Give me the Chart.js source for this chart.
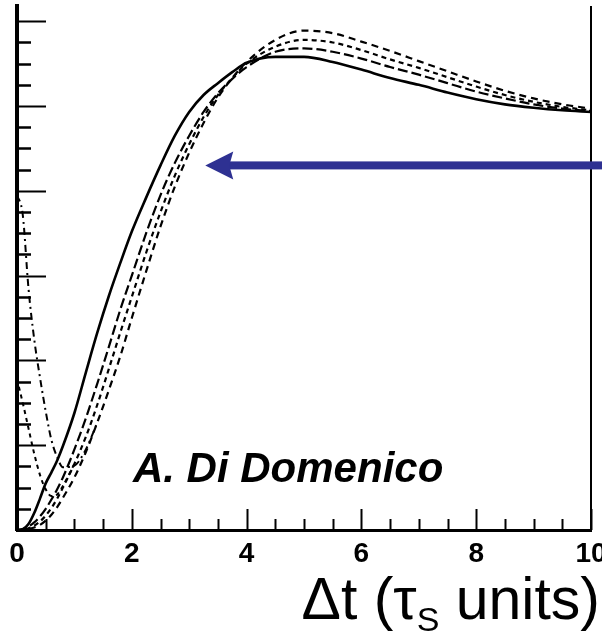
<!DOCTYPE html>
<html><head><meta charset="utf-8">
<script src="https://cdn.jsdelivr.net/npm/chart.js@4.4.0/dist/chart.umd.min.js"></script>
<style>html,body{margin:0;padding:0;background:#fff;overflow:hidden}#wrap{position:relative;width:602px;height:634px}</style>
</head><body><div id="wrap"><canvas id="c" width="602" height="634"></canvas></div>
<script>
// time difference in units of tau_S
const tValues = [0,0.1,0.2,0.3,0.4,0.5,0.6,0.7,0.8,1.0,1.2,1.4,1.6,1.8,2.0,2.25,2.5,2.75,3.0,3.25,3.5,3.75,4.0,4.5,5.0,5.5,6.0,6.5,7.0,7.5,8.0,8.5,9.0,9.5,10];
// solid curve
const solidCurve = [0,0.01,0.07,0.20,0.37,0.55,0.68,0.82,0.99,1.38,1.86,2.33,2.76,3.15,3.52,3.92,4.30,4.65,4.93,5.13,5.27,5.40,5.51,5.58,5.58,5.52,5.43,5.33,5.25,5.16,5.08,5.02,4.98,4.95,4.93];
// dashed curves
const dashedA = [0,0,0.01,0.03,0.06,0.11,0.18,0.27,0.38,0.62,0.92,1.27,1.65,2.05,2.50,3.05,3.58,4.05,4.45,4.80,5.10,5.33,5.52,5.78,5.89,5.86,5.76,5.65,5.53,5.41,5.29,5.18,5.09,5.02,4.97];
const dashedB = [0,0,0.02,0.05,0.10,0.17,0.26,0.37,0.50,0.78,1.10,1.48,1.90,2.33,2.75,3.27,3.75,4.18,4.55,4.87,5.13,5.33,5.50,5.70,5.78,5.75,5.66,5.55,5.45,5.34,5.23,5.13,5.05,4.99,4.95];
const dashedC = [0,0.01,0.04,0.09,0.16,0.25,0.36,0.48,0.62,0.95,1.32,1.73,2.16,2.60,3.00,3.50,3.95,4.33,4.65,4.93,5.15,5.32,5.46,5.64,5.68,5.64,5.56,5.46,5.37,5.27,5.17,5.09,5.02,4.97,4.94];
// curves starting high at dt = 0
const dashDot1 = [3.95,3.72,2.85,2.25,1.80,1.40,1.06,0.86,0.74,0.76,0.95,1.27,null,null,null,null,null,null,null,null,null,null,null,null,null,null,null,null,null,null,null,null,null,null,null];
const dashDot2 = [1.78,1.50,1.20,0.90,0.65,0.48,0.40,0.42,0.52,0.78,null,null,null,null,null,null,null,null,null,null,null,null,null,null,null,null,null,null,null,null,null,null,null,null,null];

const xTickValues = [0,2,4,6,8,10];
const xTickLabels = ['0','2','4','6','8','10'];
const xTitleParts = ['\u0394t (\u03c4', 'S', ' units)'];
const authorLabel = 'A. Di Domenico';
const authorAt = {x:2.02, y:0.57};
const arrowAt = {y:4.30, tipX:3.28, tailX:10.3};

function pts(arr){ return tValues.map((t,i)=>({x:t, y:arr[i]})); }

const framePlugin = {
  id:'frame',
  afterDatasetsDraw(chart){
    const {ctx, chartArea:a, scales:{x, y}} = chart;
    ctx.save();
    ctx.strokeStyle = '#000';
    // right axis
    ctx.lineWidth = 2;
    ctx.beginPath(); ctx.moveTo(a.right, a.top); ctx.lineTo(a.right, a.bottom+1); ctx.stroke();
    // y ticks (inside)
    for (let v = 0; v <= y.max + 1e-6; v += 0.25) {
      const p = Math.round(y.getPixelForValue(v)) + 0.5;
      const major = Math.abs(v - Math.round(v)) < 1e-6;
      ctx.lineWidth = major ? 2 : 2.5;
      ctx.beginPath(); ctx.moveTo(a.left, p); ctx.lineTo(a.left + (major ? 29 : 14), p); ctx.stroke();
    }
    // x ticks (inside)
    for (let v = 0; v <= 10 + 1e-6; v += 0.5) {
      const p = Math.round(x.getPixelForValue(v)) + 0.5;
      const major = Math.abs(v/2 - Math.round(v/2)) < 1e-6;
      ctx.lineWidth = 2;
      ctx.beginPath(); ctx.moveTo(p, a.bottom); ctx.lineTo(p, a.bottom - (major ? 21 : 11)); ctx.stroke();
    }
    // arrow
    const ay = y.getPixelForValue(arrowAt.y);
    const tip = x.getPixelForValue(arrowAt.tipX);
    const tail = x.getPixelForValue(arrowAt.tailX);
    ctx.fillStyle = '#2e3192';
    ctx.fillRect(tip + 22, ay - 4, tail - tip - 22, 8);
    ctx.beginPath();
    ctx.moveTo(tip, ay); ctx.lineTo(tip + 28, ay - 14); ctx.lineTo(tip + 24, ay); ctx.lineTo(tip + 28, ay + 14); ctx.closePath(); ctx.fill();
    // author
    ctx.fillStyle = '#000';
    ctx.font = 'italic bold 42px "Liberation Sans", Arial, sans-serif';
    ctx.textBaseline = 'alphabetic'; ctx.textAlign = 'left';
    ctx.fillText(authorLabel, x.getPixelForValue(authorAt.x), y.getPixelForValue(authorAt.y));
    ctx.restore();
  },
  afterDraw(chart){
    const ctx = chart.ctx;
    ctx.save();
    ctx.fillStyle = '#000';
    ctx.textBaseline = 'alphabetic'; ctx.textAlign = 'left';
    const big = '59px "Liberation Sans", Arial, sans-serif';
    const small = '34px "Liberation Sans", Arial, sans-serif';
    ctx.font = big; const w1 = ctx.measureText(xTitleParts[0]).width; const w3 = ctx.measureText(xTitleParts[2]).width;
    ctx.font = small; const w2 = ctx.measureText(xTitleParts[1]).width;
    const right = 600, base = 619;
    let x0 = right - (w1 + w2 + w3);
    ctx.font = big; ctx.fillText(xTitleParts[0], x0, base);
    ctx.font = small; ctx.fillText(xTitleParts[1], x0 + w1, base + 12);
    ctx.font = big; ctx.fillText(xTitleParts[2], x0 + w1 + w2, base);
    ctx.restore();
  }
};

const common = {pointRadius:0, borderColor:'#000', cubicInterpolationMode:'monotone', spanGaps:false, fill:false};
new Chart(document.getElementById('c'), {
  type:'line',
  data:{datasets:[
    Object.assign({label:'solid', data:pts(solidCurve), borderWidth:2.6}, common),
    Object.assign({label:'A', data:pts(dashedA), borderWidth:2.2, borderDash:[7,5]}, common),
    Object.assign({label:'B', data:pts(dashedB), borderWidth:2.2, borderDash:[5,4]}, common),
    Object.assign({label:'C', data:pts(dashedC), borderWidth:2.2, borderDash:[10,4]}, common),
    Object.assign({label:'D1', data:pts(dashDot1), borderWidth:2, borderDash:[7,4,2,4]}, common),
    Object.assign({label:'D2', data:pts(dashDot2), borderWidth:2, borderDash:[4,4]}, common)
  ]},
  options:{
    responsive:false, animation:false, devicePixelRatio:1,
    layout:{padding:{left:0, right:11, top:6, bottom:0}},
    plugins:{legend:{display:false}, tooltip:{enabled:false}},
    scales:{
      x:{type:'linear', min:0, max:10,
        grid:{display:false, drawTicks:false},
        border:{display:true, color:'#000', width:3},
        ticks:{stepSize:2, autoSkip:false, maxRotation:0, padding:7, color:'#000',
          font:{family:'"Liberation Sans", Arial, sans-serif', size:28, weight:'bold'},
          callback:(v)=>{ const i = xTickValues.indexOf(v); return i>=0 ? xTickLabels[i] : ''; }},
        afterFit(s){ s.height = 104; s.paddingLeft = 0; s.paddingRight = 0; }
      },
      y:{type:'linear', min:0, max:6.18,
        grid:{display:false, drawTicks:false},
        border:{display:true, color:'#000', width:4},
        ticks:{display:false, stepSize:1},
        afterFit(s){ s.width = 17; s.paddingTop = 0; s.paddingBottom = 0; }
      }
    }
  },
  plugins:[framePlugin]
});
</script></body></html>
